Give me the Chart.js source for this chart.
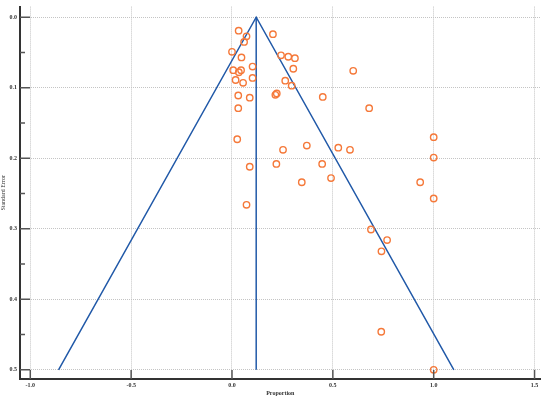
<!DOCTYPE html>
<html>
<head>
<meta charset="utf-8">
<script src="https://cdn.jsdelivr.net/npm/chart.js@4/dist/chart.umd.min.js"></script>
<style>
  body { margin: 0; background: #fff; }
  canvas { display: block; }
</style>
</head>
<body>
<canvas id="funnel" width="546" height="397"></canvas>
<script>
// study estimates
const proportion = [
  0.033, 0.072, 0.060, 0.203, 0.000, 0.047, 0.243, 0.279, 0.312, 0.102,
  0.304, 0.006, 0.045, 0.034, 0.102, 0.018, 0.055, 0.264, 0.296, 0.031,
  0.088, 0.215, 0.222, 0.031, 0.601, 0.450, 0.680, 1.000, 0.026, 0.253,
  0.371, 0.527, 0.585, 0.088, 0.220, 0.447, 0.346, 0.491, 0.072, 1.000,
  0.933, 1.000, 0.689, 0.769, 0.741, 0.740, 1.000
];
const standardError = [
  0.019, 0.027, 0.035, 0.024, 0.049, 0.057, 0.054, 0.056, 0.058, 0.070,
  0.073, 0.075, 0.075, 0.078, 0.086, 0.089, 0.093, 0.090, 0.097, 0.111,
  0.114, 0.110, 0.108, 0.129, 0.076, 0.113, 0.129, 0.170, 0.173, 0.188,
  0.182, 0.185, 0.188, 0.212, 0.208, 0.208, 0.234, 0.228, 0.266, 0.199,
  0.234, 0.257, 0.301, 0.316, 0.332, 0.446, 0.500
];

// funnel outline and pooled estimate
const funnelX = [-0.86, 0.12, 1.10];
const funnelY = [0.5, 0.0, 0.5];
const pooledX = [0.12, 0.12];
const pooledY = [0.0, 0.5];

const xTicks = [-1.0, -0.5, 0.0, 0.5, 1.0, 1.5];
const yTicks = [0.0, 0.1, 0.2, 0.3, 0.4, 0.5];
const yMinorTicks = [0.05, 0.15, 0.25, 0.35, 0.45];

const zip = (xs, ys) => xs.map((x, i) => ({ x: x, y: ys[i] }));

const blue = "#2159a8";
const orange = "#f5793a";
const font = { family: "'Liberation Serif', serif", size: 6, weight: "bold" };

// tick marks sit inside the axes in the original
const innerTicks = {
  id: "innerTicks",
  afterDraw(chart) {
    const ctx = chart.ctx;
    const area = chart.chartArea;
    const xs = chart.scales.x;
    const ys = chart.scales.y;
    ctx.save();
    ctx.strokeStyle = "#555";
    ctx.lineWidth = 1.5;
    ctx.beginPath();
    yTicks.forEach((v) => {
      const py = ys.getPixelForValue(v);
      ctx.moveTo(area.left, py);
      ctx.lineTo(area.left + 10, py);
    });
    yMinorTicks.forEach((v) => {
      const py = ys.getPixelForValue(v);
      ctx.moveTo(area.left, py);
      ctx.lineTo(area.left + 5, py);
    });
    xTicks.forEach((v) => {
      const px = xs.getPixelForValue(v);
      ctx.moveTo(px, area.bottom);
      ctx.lineTo(px, area.bottom - 9);
    });
    ctx.stroke();
    ctx.restore();
  }
};

new Chart(document.getElementById("funnel"), {
  type: "scatter",
  data: {
    datasets: [
      {
        data: zip(proportion, standardError),
        pointStyle: "circle",
        pointRadius: 3.2,
        pointBorderWidth: 1.4,
        borderColor: orange,
        backgroundColor: "rgba(0,0,0,0)",
        order: 0
      },
      {
        type: "line",
        data: zip(funnelX, funnelY),
        borderColor: blue,
        borderWidth: 1.5,
        pointRadius: 0,
        fill: false,
        order: 1
      },
      {
        type: "line",
        data: zip(pooledX, pooledY),
        borderColor: blue,
        borderWidth: 1.5,
        pointRadius: 0,
        fill: false,
        order: 1
      }
    ]
  },
  options: {
    responsive: false,
    animation: false,
    layout: { padding: { top: 0, right: 3, left: 0, bottom: 0 } },
    plugins: { legend: { display: false }, tooltip: { enabled: false } },
    scales: {
      x: {
        type: "linear",
        min: -1.051,
        max: 1.53,
        afterBuildTicks: (s) => { s.ticks = xTicks.map((v) => ({ value: v })); },
        afterFit: (s) => { s.height = 18; },
        grid: { color: "#c4c4c4", lineWidth: 1, drawTicks: false },
        border: { color: "#333", width: 2, dash: [1, 1] },
        ticks: { color: "#333", font: font, padding: 3, maxRotation: 0, callback: (v) => v.toFixed(1) },
        title: { display: true, text: "Proportion", color: "#333", font: font, padding: 0 }
      },
      y: {
        type: "linear",
        reverse: true,
        min: -0.0151,
        max: 0.513,
        afterBuildTicks: (s) => { s.ticks = yTicks.map((v) => ({ value: v })); },
        afterFit: (s) => { s.width = 20; },
        grid: { color: "#c4c4c4", lineWidth: 1, drawTicks: false },
        border: { color: "#333", width: 2, dash: [1, 1] },
        ticks: { color: "#333", font: font, padding: 3, callback: (v) => v.toFixed(1) },
        title: { display: true, text: "Standard Error", color: "#333", font: { family: "'Liberation Serif', serif", size: 6 }, padding: 0 }
      }
    }
  },
  plugins: [innerTicks]
});
</script>
</body>
</html>
